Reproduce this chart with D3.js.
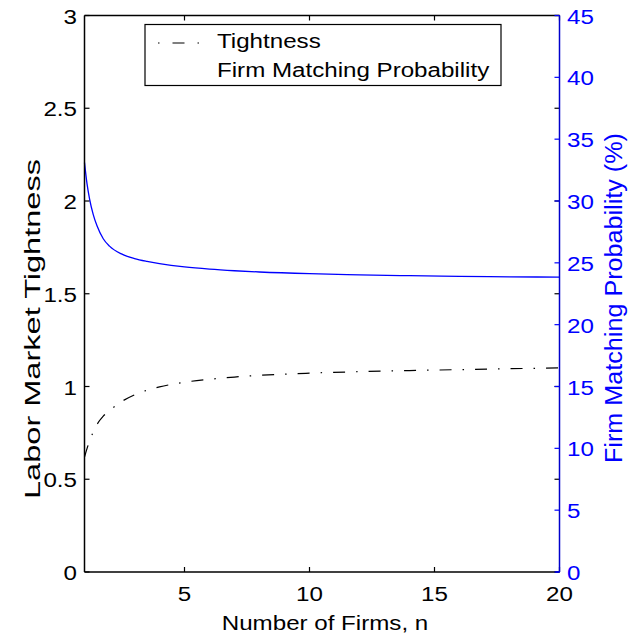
<!DOCTYPE html>
<html>
<head>
<meta charset="utf-8">
<script src="https://cdn.jsdelivr.net/npm/d3@7/dist/d3.min.js"></script>
<style>
  html, body { margin: 0; padding: 0; background: #fff; }
  svg { display: block; }
  text { font-family: "Liberation Sans", Arial, Helvetica, sans-serif; }
</style>
</head>
<body>
<svg id="chart" width="628" height="639"></svg>
<script>
// ---- data ----
const firms = [1, 1.1, 1.2, 1.35, 1.5, 1.75, 2, 2.5, 3, 3.5, 4, 5, 6, 7, 8, 10, 12, 14, 16, 18, 20];
const tightness = [0.62, 0.665, 0.705, 0.755, 0.795, 0.84, 0.87, 0.92, 0.955, 0.98, 0.998, 1.023, 1.039, 1.051, 1.06, 1.072, 1.080, 1.086, 1.091, 1.096, 1.10];
const matchProb = [33.1, 31.4, 30.2, 28.9, 28.0, 26.95, 26.35, 25.7, 25.35, 25.12, 24.94, 24.67, 24.49, 24.36, 24.26, 24.12, 24.03, 23.96, 23.91, 23.87, 23.84];
const xTicks = [5, 10, 15, 20];
const yLeftTicks = [0, 0.5, 1, 1.5, 2, 2.5, 3];
const yRightTicks = [0, 5, 10, 15, 20, 25, 30, 35, 40, 45];
const legendLabels = ["Tightness", "Firm Matching Probability"];

// ---- layout ----
const L = 84.5, R = 559.5, T = 15.5, B = 572;
const svg = d3.select("#chart");
const x = d3.scaleLinear().domain([1, 20]).range([L, R]);
const yL = d3.scaleLinear().domain([0, 3]).range([B, T]);
const yR = d3.scaleLinear().domain([0, 45]).range([B, T]);
const BLUE = "#0000ff";
const AXBLUE = "#0000cc";
const fs = 21, sx = 1.15;

function htext(parent, px, py, str, anchor, color) {
  parent.append("g").attr("transform", `translate(${px},${py}) scale(${sx},1)`)
    .append("text").attr("text-anchor", anchor).attr("font-size", fs)
    .attr("fill", color).text(str);
}

// curves
const lineT = d3.line().x((d, i) => x(firms[i])).y(d => yL(d)).curve(d3.curveMonotoneX);
const lineP = d3.line().x((d, i) => x(firms[i])).y(d => yR(d)).curve(d3.curveMonotoneX);

svg.append("path").attr("d", lineP(matchProb))
  .attr("fill", "none").attr("stroke", BLUE).attr("stroke-width", 1.3);
svg.append("path").attr("d", lineT(tightness))
  .attr("fill", "none").attr("stroke", "#000").attr("stroke-width", 1.2)
  .attr("stroke-dasharray", "12,11,1.5,11");

// box: left/top/bottom black
const tick = 5;
const g = svg.append("g");
g.append("line").attr("x1", L).attr("x2", L).attr("y1", T).attr("y2", B).attr("stroke", "#000").attr("stroke-width", 1.5);
g.append("line").attr("x1", L).attr("x2", R).attr("y1", T).attr("y2", T).attr("stroke", "#000").attr("stroke-width", 1.5);
g.append("line").attr("x1", L).attr("x2", R).attr("y1", B).attr("y2", B).attr("stroke", "#000").attr("stroke-width", 1.5);

// left ticks (both sides, black)
yLeftTicks.forEach(v => {
  g.append("line").attr("x1", L).attr("x2", L + tick).attr("y1", yL(v)).attr("y2", yL(v)).attr("stroke", "#000").attr("stroke-width", 1.2);
  g.append("line").attr("x1", R).attr("x2", R - tick).attr("y1", yL(v)).attr("y2", yL(v)).attr("stroke", "#000").attr("stroke-width", 1.2);
  htext(g, 77, yL(v) + 8, String(v), "end", "#000");
});
// x ticks (bottom and top)
xTicks.forEach(v => {
  g.append("line").attr("x1", x(v)).attr("x2", x(v)).attr("y1", B).attr("y2", B - tick).attr("stroke", "#000").attr("stroke-width", 1.2);
  g.append("line").attr("x1", x(v)).attr("x2", x(v)).attr("y1", T).attr("y2", T + tick).attr("stroke", "#000").attr("stroke-width", 1.2);
  htext(g, x(v), 601, String(v), "middle", "#000");
});

// right axis (blue)
g.append("line").attr("x1", R).attr("x2", R).attr("y1", T).attr("y2", B).attr("stroke", AXBLUE).attr("stroke-width", 1.5);
g.append("line").attr("x1", R - 4).attr("x2", R).attr("y1", B).attr("y2", B).attr("stroke", AXBLUE).attr("stroke-width", 1.5);
yRightTicks.forEach(v => {
  g.append("line").attr("x1", R).attr("x2", R - tick).attr("y1", yR(v)).attr("y2", yR(v)).attr("stroke", BLUE).attr("stroke-width", 1.2);
  htext(g, 567, yR(v) + 8, String(v), "start", BLUE);
});

// axis labels
htext(svg, 325, 630, "Number of Firms, n", "middle", "#000");
svg.append("text").attr("transform", "translate(40,329) rotate(-90)").attr("text-anchor", "middle")
  .attr("font-size", 22).attr("fill", "#000")
  .attr("textLength", 340).attr("lengthAdjust", "spacingAndGlyphs")
  .text("Labor Market Tightness");
svg.append("text").attr("transform", "translate(622,298) rotate(-90)").attr("text-anchor", "middle")
  .attr("font-size", 23).attr("fill", BLUE)
  .attr("textLength", 330).attr("lengthAdjust", "spacingAndGlyphs")
  .text("Firm Matching Probability (%)");

// legend
const lg = svg.append("g");
lg.append("rect").attr("x", 145).attr("y", 24.5).attr("width", 356).attr("height", 61)
  .attr("fill", "#fff").attr("stroke", "#000").attr("stroke-width", 1.2);
lg.append("line").attr("x1", 158).attr("x2", 200).attr("y1", 43).attr("y2", 43)
  .attr("stroke", "#000").attr("stroke-width", 1.2).attr("stroke-dasharray", "1.5,13,12,13,1.5");
htext(lg, 217, 47.5, legendLabels[0], "start", "#000");
htext(lg, 217, 76.7, legendLabels[1], "start", "#000");
</script>
</body>
</html>
